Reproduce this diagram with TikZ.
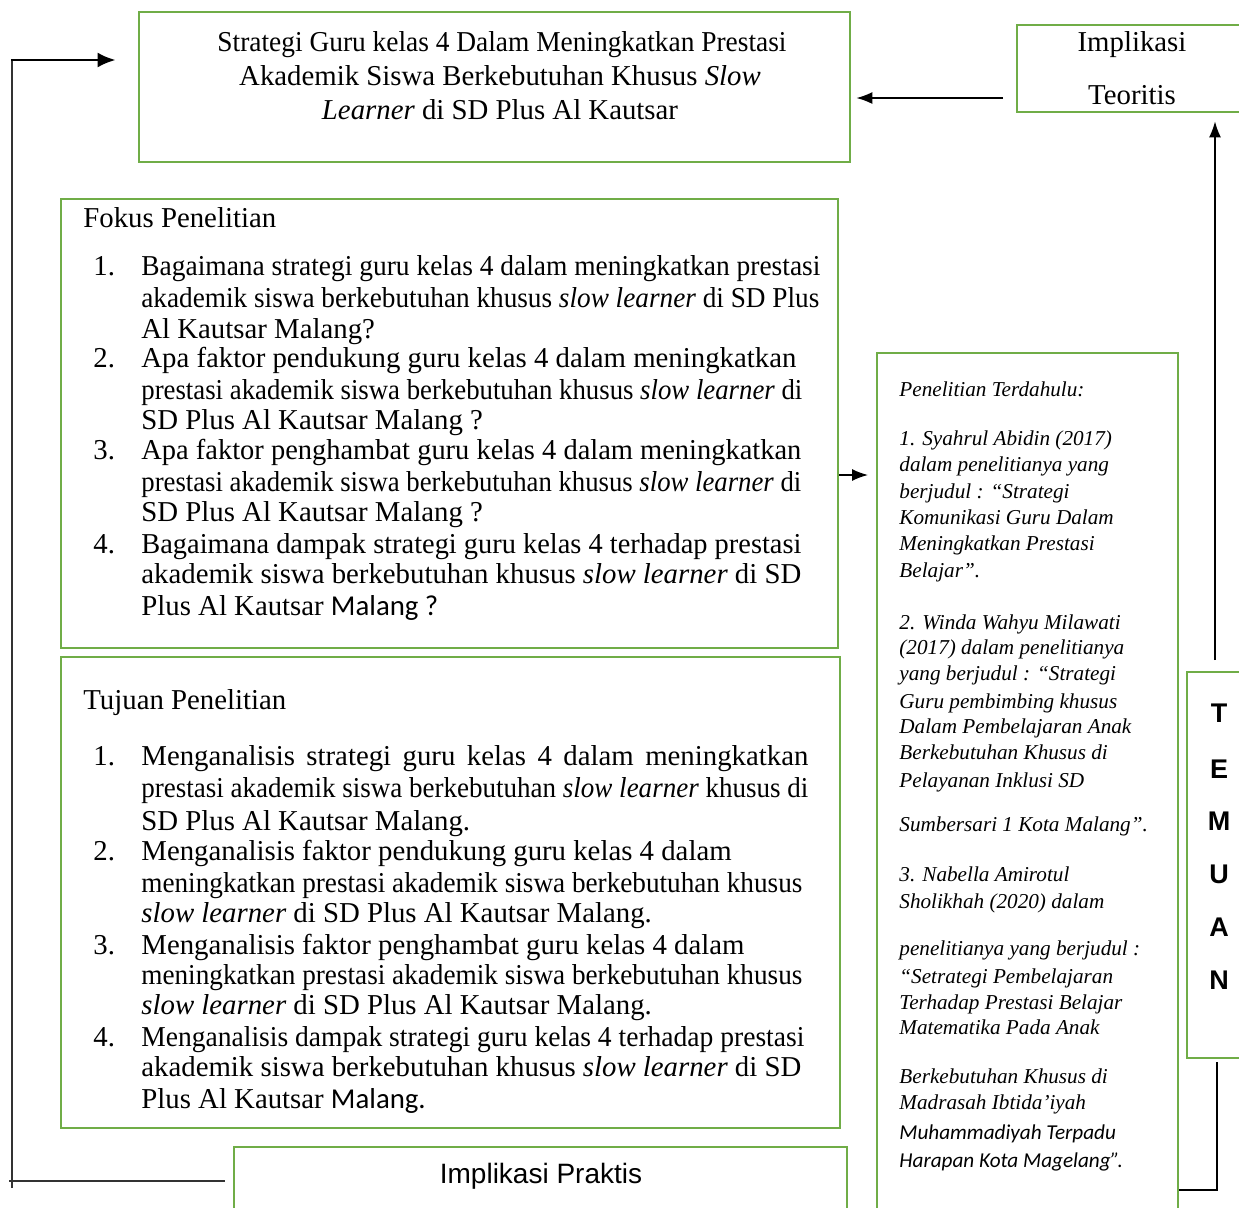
\documentclass[tikz,border=0pt]{standalone}
\usepackage{fontspec}
\usepackage{graphicx}
\setmainfont{Liberation Serif}
\newfontfamily\calibri{Carlito}
\newfontfamily\arial{Liberation Sans}
\usetikzlibrary{arrows.meta,fit,positioning}
\definecolor{hijau}{RGB}{112,173,71}
% baris rata kiri-kanan dengan lebar tertentu (pt)
\newlength\panjang
\newcommand\rata[2]{\settowidth\panjang{#2}%
	\ifdim\panjang>#1pt\relax
		\pgfmathsetmacro\skala{#1/\panjang}\scalebox{\skala}[1]{#2}%
	\else\makebox[#1pt][s]{#2}\fi}
\tikzset{
	kotak/.style={draw=hijau, line width=1.4pt, inner sep=0pt},
	panah/.style={-{Latex[length=8pt,width=6pt]}, line width=0.7pt},
	garis/.style={line width=0.7pt, black!80},
	baris/.style={anchor=base west, inner sep=0pt, font=\fontsize{14.4}{17}\selectfont},
	kecil/.style={anchor=base west, inner sep=0pt, font=\fontsize{10.6}{13}\selectfont\itshape},
	tengah/.style={anchor=base, inner sep=0pt, font=\fontsize{14.4}{17}\selectfont},
	huruf/.style={inner sep=0pt, font=\fontsize{13.5}{15}\selectfont\arial\bfseries}
}
\begin{document}
\begin{tikzpicture}[x=0.5pt, y=-0.5pt]
	\useasboundingbox (0,0) rectangle (1239,1207);
	\clip (0,0) rectangle (1239,1207);
	% kotak
	\node[kotak, fit={(139,12) (850,162)}] (judul) {};
	\node[kotak, fit={(1017,25) (1270,112)}] (teoritis) {};
	\node[kotak, fit={(61,199) (838,648)}] (fokus) {};
	\node[kotak, fit={(61,657) (840,1128)}] (tujuan) {};
	\node[kotak, fit={(234,1147) (847,1240)}] (praktis) {};
	\node[kotak, fit={(877,353) (1178,1240)}] (terdahulu) {};
	\node[kotak, fit={(1187,672) (1270,1058)}] (temuan) {};
	% judul
	\node[tengah] (j1) at (502,51) {\rata{284.5}{Strategi Guru kelas 4 Dalam Meningkatkan Prestasi}};
	\node[tengah] (j2) at (500,85) {Akademik Siswa Berkebutuhan Khusus \textit{Slow}};
	\node[tengah] (j3) at (500,119) {\textit{Learner} di SD Plus Al Kautsar};
	\node[tengah] (t1) at (1132,51) {Implikasi};
	\node[tengah] (t2) at (1132,104) {Teoritis};
	\node[tengah, font=\fontsize{14}{17}\selectfont\arial] (p1) at (541,1183) {Implikasi Praktis};
	% fokus penelitian
	\node[baris] (fkj) at (83,227) {Fokus Penelitian};
	\foreach \y/\n in {275/1,367/2,459/3,553/4}
		\node[baris] (fn\n) at (93,\y) {\n.};
	\foreach \y/\t [count=\i] in {
		275/{\rata{339.5}{Bagaimana strategi guru kelas 4 dalam meningkatkan prestasi}},
		307/{\rata{339}{akademik siswa berkebutuhan khusus \textit{slow learner} di SD Plus}},
		338/{Al Kautsar Malang?},
		367/{Apa faktor pendukung guru kelas 4 dalam meningkatkan},
		399/{\rata{330.5}{prestasi akademik siswa berkebutuhan khusus \textit{slow learner} di}},
		429/{SD Plus Al Kautsar Malang ?},
		459/{\rata{330}{Apa faktor penghambat guru kelas 4 dalam meningkatkan}},
		491/{\rata{330}{prestasi akademik siswa berkebutuhan khusus \textit{slow learner} di}},
		521/{SD Plus Al Kautsar Malang ?},
		553/{\rata{330}{Bagaimana dampak strategi guru kelas 4 terhadap prestasi}},
		583/{akademik siswa berkebutuhan khusus \textit{slow learner} di SD},
		615/{Plus Al Kautsar {\calibri Malang ?}}}
		\node[baris] (fk\i) at (141,\y) {\t};
	% tujuan penelitian
	\node[baris] (tjj) at (83,709) {Tujuan Penelitian};
	\foreach \y/\n in {765/1,860/2,954/3,1046/4}
		\node[baris] (tn\n) at (93,\y) {\n.};
	\foreach \y/\t [count=\i] in {
		765/{\rata{333.5}{Menganalisis strategi guru kelas 4 dalam meningkatkan}},
		797/{\rata{333.5}{prestasi akademik siswa berkebutuhan \textit{slow learner} khusus di}},
		830/{SD Plus Al Kautsar Malang.},
		860/{Menganalisis faktor pendukung guru kelas 4 dalam},
		892/{\rata{330.5}{meningkatkan prestasi akademik siswa berkebutuhan khusus}},
		922/{\textit{slow learner} di SD Plus Al Kautsar Malang.},
		954/{Menganalisis faktor penghambat guru kelas 4 dalam},
		984/{\rata{330.5}{meningkatkan prestasi akademik siswa berkebutuhan khusus}},
		1014/{\textit{slow learner} di SD Plus Al Kautsar Malang.},
		1046/{\rata{331.5}{Menganalisis dampak strategi guru kelas 4 terhadap prestasi}},
		1076/{akademik siswa berkebutuhan khusus \textit{slow learner} di SD},
		1108/{Plus Al Kautsar {\calibri Malang.}}}
		\node[baris] (tj\i) at (141,\y) {\t};
	% penelitian terdahulu
	\foreach \y/\t [count=\i] in {
		396/{Penelitian Terdahulu:},
		445/{1. Syahrul Abidin (2017)},
		471/{dalam penelitianya yang},
		498/{berjudul : “Strategi},
		524/{Komunikasi Guru Dalam},
		550/{Meningkatkan Prestasi},
		577/{Belajar”.},
		629/{2. Winda Wahyu Milawati},
		654/{(2017) dalam penelitianya},
		680/{yang berjudul : “Strategi},
		708/{Guru pembimbing khusus},
		733/{Dalam Pembelajaran Anak},
		759/{Berkebutuhan Khusus di},
		787/{Pelayanan Inklusi SD},
		831/{Sumbersari 1 Kota Malang”.},
		881/{3. Nabella Amirotul},
		908/{Sholikhah (2020) dalam},
		955/{penelitianya yang berjudul :},
		983/{“Setrategi Pembelajaran},
		1009/{Terhadap Prestasi Belajar},
		1034/{Matematika Pada Anak},
		1083/{Berkebutuhan Khusus di},
		1109/{Madrasah Ibtida’iyah},
		1139/{{\calibri Muhammadiyah Terpadu}},
		1167/{{\calibri Harapan Kota Magelang”.}}}
		\node[kecil] (pt\i) at (899,\y) {\t};
	% temuan
	\foreach \y/\h [count=\i] in {713/T,769/E,821/M,874/U,927/A,980/N}
		\node[huruf] (tm\i) at (1219,\y) {\h};
	% panah
	\coordinate (kiriAtas) at (12,60);
	\coordinate (kiriBawah) at (12,1181);
	\draw[garis] ([xshift=-4pt]praktis.west |- kiriBawah) -- ([xshift=-1.5pt]kiriBawah);
	\draw[garis] ([yshift=-3.5pt]kiriBawah) -- (kiriAtas);
	\draw[panah, -{Latex[length=9pt,width=7.5pt]}, line width=1.3pt] ([xshift=-0.6pt]kiriAtas) -- ([xshift=-11pt]judul.west |- kiriAtas);
	\coordinate (teoAsal) at (1003,98);
	\draw[panah] (teoAsal) -- ([xshift=2.5pt]judul.east |- teoAsal);
	\coordinate (temAtas) at (1215,660);
	\draw[panah] (temAtas) -- ([yshift=-4pt]teoritis.south -| temAtas);
	\coordinate (temBawah) at (1217,1062);
	\draw[garis, black] (temBawah) -- (1217,1190) -- (terdahulu.east |- 0,1190);
	\coordinate (fokusKanan) at (868,475);
	\draw[panah] (fokus.east |- fokusKanan) -- (fokusKanan);
\end{tikzpicture}
\end{document}
